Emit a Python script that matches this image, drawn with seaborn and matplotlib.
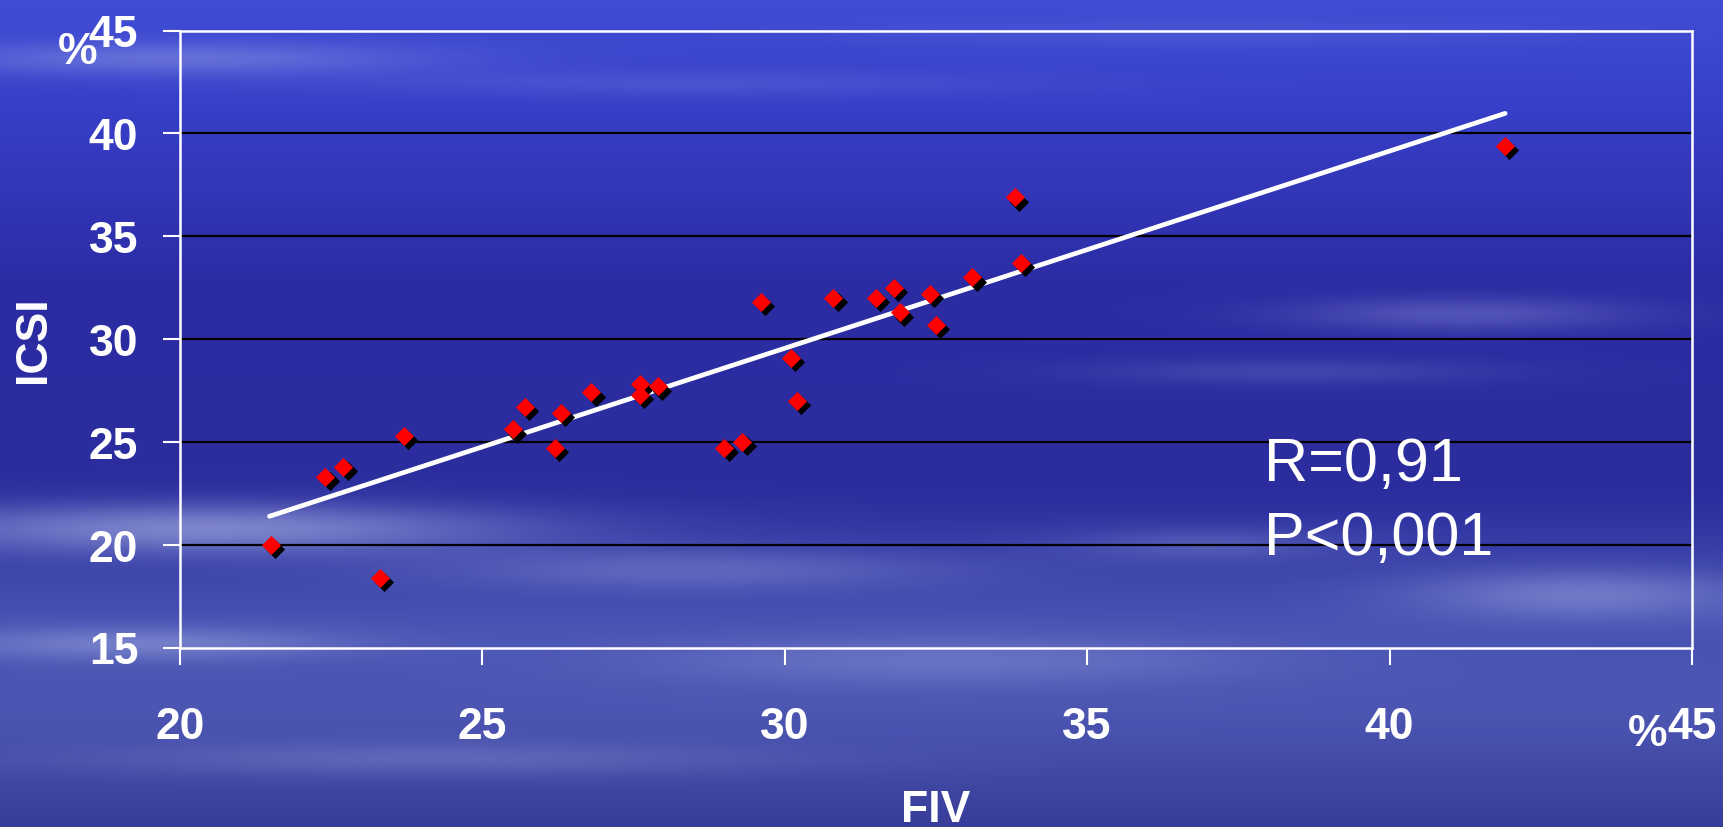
import numpy as np
import pandas as pd
import matplotlib
matplotlib.use('Agg')
import matplotlib.pyplot as plt
import seaborn as sns
from matplotlib.transforms import ScaledTranslation

# ==================== DATA ====================
fiv = [21.5, 22.4, 22.7, 23.3, 23.7, 25.5, 25.7, 26.2, 26.3, 26.8,
       27.6, 27.6, 27.9, 29.0, 29.3, 29.6, 30.1, 30.2, 30.8, 31.5,
       31.8, 31.9, 32.4, 32.5, 33.1, 33.8, 33.9, 41.9]
icsi = [20.0, 23.3, 23.8, 18.4, 25.3, 25.6, 26.7, 24.7, 26.4, 27.4,
        27.8, 27.3, 27.7, 24.7, 25.0, 31.8, 29.1, 27.0, 32.0, 32.0,
        32.5, 31.3, 32.2, 30.7, 33.0, 36.9, 33.7, 39.4]

# trend line end points as drawn in the slide
fit_x = [21.48, 41.91]
fit_y = [21.38, 40.97]

x_ticks = [20, 25, 30, 35, 40, 45]
x_tick_labels = ['20', '25', '30', '35', '40', '45']
y_ticks = [15, 20, 25, 30, 35, 40, 45]
y_tick_labels = ['15', '20', '25', '30', '35', '40', '45']
grid_vals = [20, 25, 30, 35, 40]

stat_lines = ['R=0,91', 'P<0,001']

df = pd.DataFrame({'FIV': fiv, 'ICSI': icsi})
fit_df = pd.DataFrame({'FIV': fit_x, 'ICSI': fit_y})

# ==================== FIGURE ====================
W, H = 1723, 828
fig = plt.figure(figsize=(W / 100, H / 100), dpi=100)

# slide background: blue sky with soft cloud streaks
h, w = 207, 431
yy, xx = np.mgrid[0:1:h * 1j, 0:1:w * 1j]
stops_y = [0.0, 0.12, 0.35, 0.6, 0.75, 0.86, 1.0]
stops_c = np.array([[0.25, 0.30, 0.83], [0.22, 0.25, 0.79], [0.17, 0.17, 0.64],
                    [0.17, 0.18, 0.62], [0.28, 0.32, 0.70], [0.30, 0.34, 0.70],
                    [0.22, 0.24, 0.60]])
bg = np.stack([np.interp(yy, stops_y, stops_c[:, k]) for k in range(3)], axis=-1)
streaks = [  # (cy, cx, sy, sx, strength)
    (0.07, 0.10, 0.02, 0.15, 0.30), (0.10, 0.40, 0.015, 0.20, 0.12),
    (0.04, 0.70, 0.015, 0.20, 0.10), (0.38, 0.85, 0.02, 0.10, 0.25),
    (0.45, 0.75, 0.015, 0.12, 0.15), (0.64, 0.12, 0.03, 0.18, 0.50),
    (0.69, 0.40, 0.025, 0.15, 0.25), (0.72, 0.92, 0.03, 0.10, 0.35),
    (0.78, 0.08, 0.02, 0.12, 0.35), (0.80, 0.55, 0.03, 0.18, 0.25),
    (0.92, 0.25, 0.02, 0.20, 0.20), (0.66, 0.70, 0.02, 0.08, 0.20),
]
cloud = np.zeros_like(yy)
for cy, cx, sy, sx, st in streaks:
    cloud += st * np.exp(-((yy - cy) / sy) ** 2 - ((xx - cx) / sx) ** 2)
cloud = np.clip(cloud, 0, 0.7)[..., None]
bg = bg * (1 - cloud) + np.array([0.78, 0.82, 0.96]) * cloud

bg_ax = fig.add_axes([0, 0, 1, 1], zorder=-10)
bg_ax.imshow(bg, aspect='auto', interpolation='bicubic', extent=[0, 1, 0, 1])
bg_ax.set_axis_off()

ax = fig.add_axes([180 / W, 1 - 648.5 / H, 1512 / W, 617 / H])
ax.set_facecolor('none')

# gridlines
ax.hlines(grid_vals, 20, 45, color='black', lw=1.6, zorder=1)

# trend line
sns.lineplot(data=fit_df, x='FIV', y='ICSI', color='white', lw=3.4,
             ax=ax, zorder=3, solid_capstyle='round')

# points: black shadow then red diamonds
sns.scatterplot(data=df, x='FIV', y='ICSI', marker='D', s=95, color='black',
                linewidth=0, ax=ax, zorder=4)
shadow = ax.collections[-1]
shadow.set_offset_transform(ax.transData + ScaledTranslation(3.2 / 72, -3.2 / 72, fig.dpi_scale_trans))
sns.scatterplot(data=df, x='FIV', y='ICSI', marker='D', s=95, color='red',
                linewidth=0, ax=ax, zorder=5)

ax.set_xlim(20, 45)
ax.set_ylim(15, 45)
ax.set_xticks(x_ticks)
ax.set_xticklabels(x_tick_labels)
ax.set_yticks(y_ticks)
ax.set_yticklabels(y_tick_labels)

for sp in ax.spines.values():
    sp.set_color('white')
    sp.set_linewidth(1.8)
    sp.set_zorder(6)

tick_font = dict(fontsize=32, fontweight='bold', color='white', family='Liberation Sans')
ax.tick_params(axis='both', direction='out', length=12, width=1.5, color='white', labelcolor='white')
ax.tick_params(axis='x', pad=30)
ax.tick_params(axis='y', pad=18)
for lab in ax.get_xticklabels() + ax.get_yticklabels():
    lab.set_fontsize(32)
    lab.set_fontweight('bold')
    lab.set_family('Liberation Sans')

# the "%" signs placed before 45 on both axes
fig.text(78 / W, 1 - 53 / H, '%', ha='center', va='center', **tick_font)
fig.text(1648 / W, 1 - 734 / H, '%', ha='center', va='center', **tick_font)

ax.set_xlabel('FIV', **tick_font)
ax.set_ylabel('ICSI', **tick_font)
ax.xaxis.label.set_va('center')
ax.yaxis.label.set_va('center')
ax.xaxis.set_label_coords(0.5, -0.263)
ax.yaxis.set_label_coords(-0.097, 0.5)

# correlation text
ax.text(37.93, 23.14, stat_lines[0], fontsize=44, color='white',
        family='Liberation Sans', va='baseline', ha='left', zorder=7)
ax.text(37.93, 19.55, stat_lines[1], fontsize=44, color='white',
        family='Liberation Sans', va='baseline', ha='left', zorder=7)

plt.savefig('out.png', dpi=100)
plt.close()
